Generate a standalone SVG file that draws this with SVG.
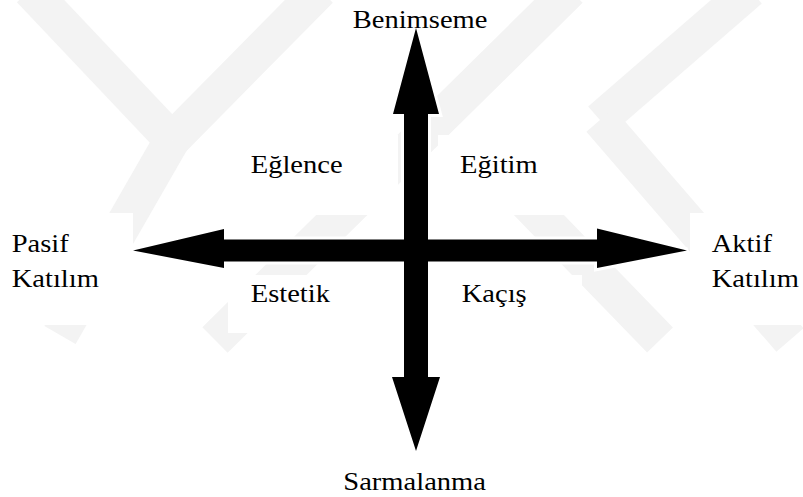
<svg xmlns="http://www.w3.org/2000/svg" width="803" height="497" viewBox="0 0 803 497">
  <style>
    .wm { stroke: #f3f3f3; stroke-width: 36; fill: none; stroke-linecap: butt; }
    .box { fill: #ffffff; }
    .lbl { font-family: "Liberation Serif", "Times New Roman", serif; font-size: 25.5px; fill: #000000; }
    .halo { fill: #ffffff; stroke: #ffffff; stroke-width: 6; stroke-linejoin: miter; }
    .arrow { fill: #000000; }
  </style>
  <defs>
    <polygon id="harrow" points="133,250.5 224,229 224,239.5 597,239.5 597,228.5 687,250.5 597,268 597,261.5 224,261.5 224,268"/>
    <polygon id="varrow" points="416,28 439,114 428,114 428,377 440,377 416,451 392,377 404,377 404,114 393,114"/>
  </defs>
  <rect x="0" y="0" width="803" height="497" fill="#ffffff"/>
  <g id="watermark">
    <line class="wm" x1="30" y1="-10" x2="172" y2="140"/>
    <line class="wm" x1="320" y1="-10" x2="172" y2="140"/>
    <line class="wm" x1="172" y1="140" x2="60" y2="335"/>
    <line class="wm" x1="570" y1="-10" x2="215" y2="340"/>
    <line class="wm" x1="505" y1="180" x2="660" y2="340"/>
    <line class="wm" x1="750" y1="-10" x2="600" y2="120"/>
    <line class="wm" x1="600" y1="120" x2="790" y2="340"/>
    <rect class="box" x="228" y="135" width="170" height="80"/>
    <rect class="box" x="438" y="135" width="144" height="80"/>
    <rect class="box" x="228" y="275" width="170" height="58"/>
    <rect class="box" x="438" y="275" width="144" height="58"/>
    <rect class="box" x="0" y="213" width="133" height="112"/>
    <rect class="box" x="690" y="213" width="113" height="112"/>
  </g>
  <g id="connectors">
    <use href="#harrow" class="halo"/>
    <use href="#varrow" class="halo"/>
    <use href="#harrow" class="arrow"/>
    <use href="#varrow" class="arrow"/>
  </g>
  <g id="benimseme"><text class="lbl" transform="translate(352.7,28) scale(1.12,1)">Benimseme</text></g>
  <g id="sarmalanma"><text class="lbl" transform="translate(343.3,490) scale(1.12,1)">Sarmalanma</text></g>
  <g id="pasif"><text class="lbl" transform="translate(11.7,252) scale(1.12,1)">Pasif</text><text class="lbl" transform="translate(11.7,287) scale(1.12,1)">Katılım</text></g>
  <g id="aktif"><text class="lbl" transform="translate(711.7,252) scale(1.12,1)">Aktif</text><text class="lbl" transform="translate(711.7,287) scale(1.12,1)">Katılım</text></g>
  <g id="eglence"><text class="lbl" transform="translate(250.7,173) scale(1.12,1)">Eğlence</text></g>
  <g id="egitim"><text class="lbl" transform="translate(460,173) scale(1.12,1)">Eğitim</text></g>
  <g id="estetik"><text class="lbl" transform="translate(250.7,302) scale(1.12,1)">Estetik</text></g>
  <g id="kacis"><text class="lbl" transform="translate(461.7,302) scale(1.12,1)">Kaçış</text></g>
</svg>
